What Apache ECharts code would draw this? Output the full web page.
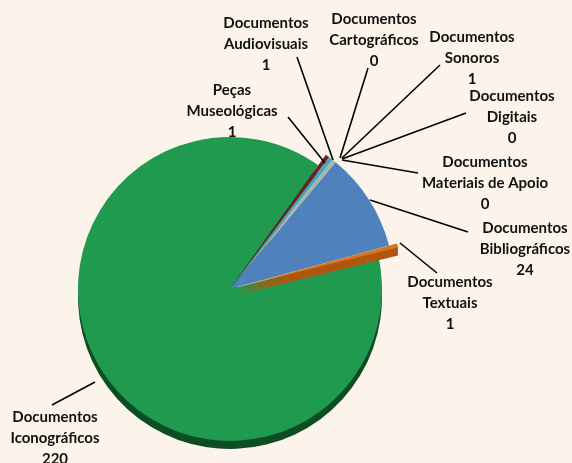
<!DOCTYPE html>
<html><head><meta charset="utf-8">
<script src="https://cdn.jsdelivr.net/npm/echarts@6/dist/echarts.min.js"></script>
<style>html,body{margin:0;padding:0;background:#fcf4ea;}#c{width:572px;height:463px;}</style>
</head><body><div id="c"></div>
<script>
const categories = ['Peças\nMuseológicas','Documentos\nAudiovisuais','Documentos\nCartográficos','Documentos\nSonoros','Documentos\nDigitais','Documentos\nMateriais de Apoio','Documentos\nBibliográficos','Documentos\nTextuais','Documentos\nIconográficos'];
const values = [1,1,0,1,0,0,24,1,220];
const colors = ['#6e2222','#4aa3c0','#8fb0d8','#a3b9a3','#8a9fc4','#7f9fc9','#4f81bd','#d8731f','#1f9a4f'];
const depthColors = ['#3f1010','#2d6f84','#5c7ba3','#6c806c','#5a6e94','#566f98','#35598a','#b0560f','#0c4d23'];
// label centres and leader lines (layout only)
const labelPos = [[232,111],[266,44],[374,40],[472,58],[512,117],[485,183],[525,249],[450,303],[55,438]];
const linePts = [[[325,163],[288,117]],[[333,160],[297,57]],[[340,158],[368,68]],[[342,158],[440,65]],[[342,159],[466,113]],[[342,160],[418,173]],[[370,200],[468,232]],[[400,243],[437,273]],[[95,382],[52,405]]];

const startAngle = 54.5;
const center = [230, 289];
const rMain = 152, rSmall = 165;
const bigIdx = 8, explodeIdx = 7;
function mk(cols, show){return categories.map((n,i)=>({name:n,value:values[i],selected:i===explodeIdx,
  itemStyle:{color:show(i)?cols[i]:'rgba(0,0,0,0)'}}));}
const base = {type:'pie',silent:true,startAngle:startAngle,selectedMode:'multiple',selectedOffset:8,
  itemStyle:{borderWidth:0},label:{show:false},labelLine:{show:false},emphasis:{disabled:true}};
function s(dy,r,cols,show,z){return Object.assign({},base,{center:[center[0],center[1]+dy],radius:r,data:mk(cols,show),z:z});}
const series = [];
series.push(s(8,rMain,depthColors,i=>i===bigIdx,1));
series.push(s(0,rMain,colors,i=>i===bigIdx,2));
series.push(s(0,rSmall,colors,i=>i!==bigIdx&&i!==explodeIdx,3));
for(let d=1; d<=8; d++) series.push(s(d,rSmall,depthColors,i=>i===explodeIdx,4));
series.push(s(0,rSmall,colors,i=>i===explodeIdx,5));
series.push({type:'pie',silent:true,center:center,radius:rSmall,startAngle:startAngle,z:6,emphasis:{disabled:true},
  itemStyle:{color:'rgba(0,0,0,0)',borderWidth:0},
  label:{show:true,formatter:'{b}\n{c}',overflow:'none',fontFamily:'Lato',fontWeight:'bold',fontSize:15,lineHeight:21,color:'#111',align:'center'},
  labelLine:{show:true,lineStyle:{color:'#000',width:1.6}},
  labelLayout:function(p){const i=p.dataIndex;return {x:labelPos[i][0],y:labelPos[i][1],align:'center',verticalAlign:'middle',labelLinePoints:[linePts[i][0],linePts[i][0],linePts[i][1]]};},
  data:categories.map((n,i)=>({name:n,value:values[i]}))});
const chart = echarts.init(document.getElementById('c'),null,{renderer:'canvas'});
chart.setOption({backgroundColor:'#fcf4ea',animation:false,series:series});
</script></body></html>
